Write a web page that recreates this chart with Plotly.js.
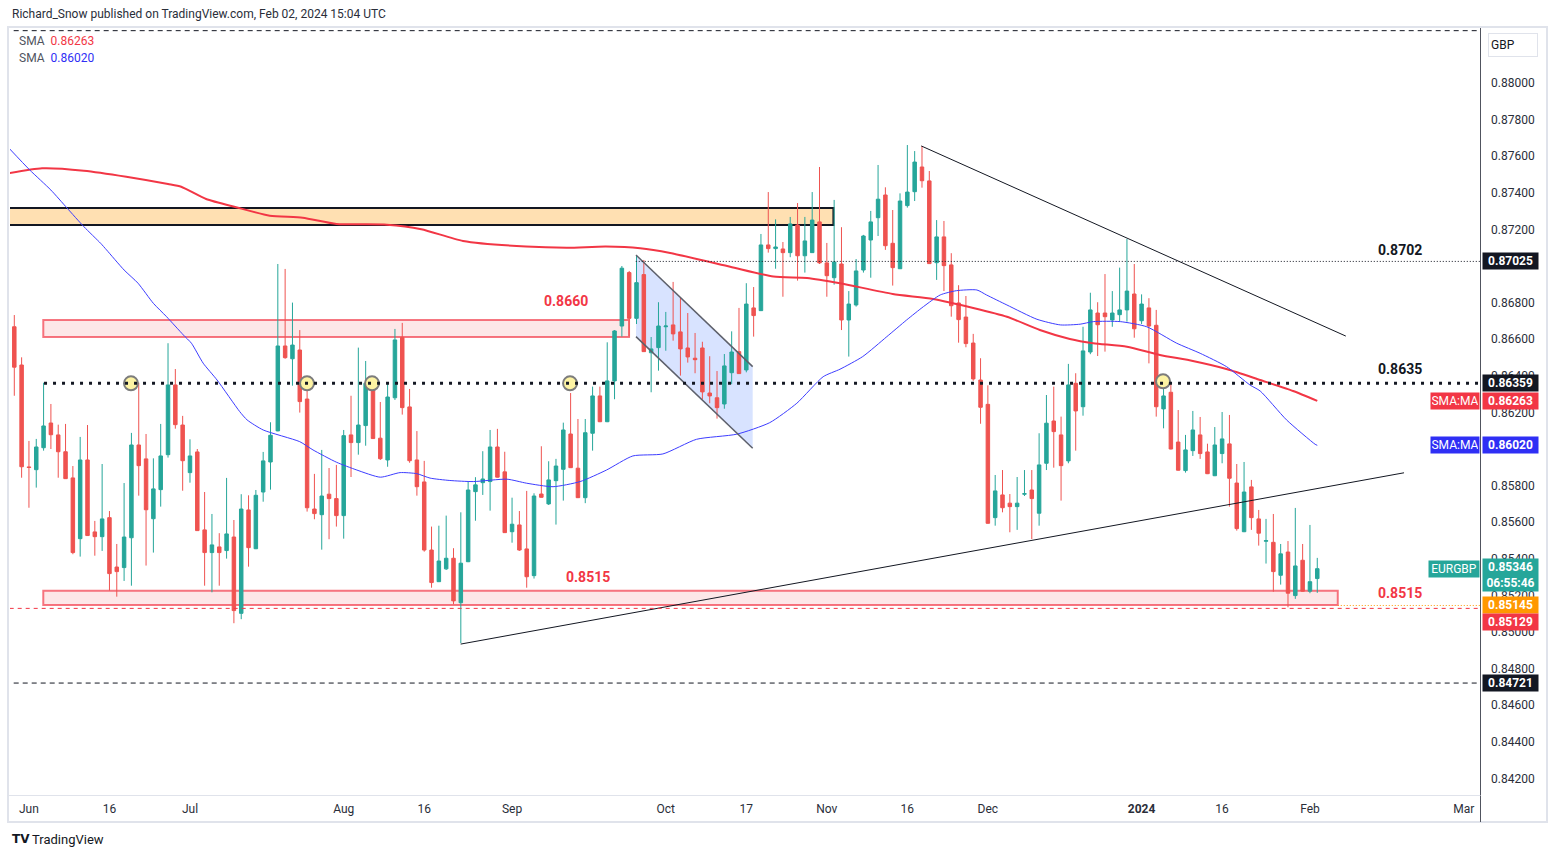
<!DOCTYPE html>
<html><head><meta charset="utf-8">
<script src="https://cdn.plot.ly/plotly-3.0.1.min.js"></script>
<style>html,body{margin:0;padding:0;background:#fff;overflow:hidden}#chart{width:1556px;height:857px}</style>
</head><body><div id="chart"></div>
<script>
// ---------------- DATA (EURGBP daily) ----------------
const firstSession = '2023-05-30';
const open = [
0.86668,0.86459,0.85902,0.85887,0.86007,0.86142,0.86077,0.85985,0.85842,0.85510,
0.85940,0.85547,0.85521,0.85625,0.85355,0.85352,0.85515,0.86022,0.85946,0.85619,
0.85778,0.85969,0.86350,0.86131,0.85871,0.85984,0.85558,0.85434,0.85465,0.85445,
0.85519,0.85102,0.85667,0.85455,0.85765,0.85929,0.86099,0.86563,0.86493,0.86541,
0.86273,0.85672,0.85641,0.85753,0.85729,0.85636,0.86077,0.86035,0.86128,0.86344,
0.86059,0.85940,0.86280,0.86610,0.86230,0.85940,0.85820,0.85448,0.85275,0.85345,
0.85403,0.85160,0.85384,0.85767,0.85816,0.85822,0.86011,0.85875,0.85548,0.85585,
0.85454,0.85308,0.85754,0.85700,0.85827,0.85889,0.86082,0.85895,0.85734,0.86086,
0.86290,0.86149,0.86372,0.86672,0.86964,0.86714,0.86953,0.86526,0.86554,0.86668,
0.86678,0.86640,0.86552,0.86496,0.86552,0.86306,0.86280,0.86246,0.86417,0.86532,
0.86432,0.86771,0.86756,0.87115,0.87095,0.87093,0.87073,0.87224,0.87056,0.87073,
0.87241,0.87017,0.86936,0.87011,0.86705,0.86787,0.86978,0.87142,0.87264,0.87388,
0.87124,0.86985,0.87330,0.87406,0.87541,0.87465,0.87018,0.87159,0.87006,0.86798,
0.86721,0.86579,0.86377,0.86244,0.85625,0.85749,0.85704,0.85685,0.85753,0.85776,
0.85649,0.85922,0.86153,0.86077,0.85935,0.86359,0.86231,0.86530,0.86743,0.86743,
0.86705,0.86734,0.86760,0.86847,0.86701,0.86771,0.86676,0.86219,0.86310,0.86038,
0.85882,0.85991,0.86077,0.85984,0.85854,0.85975,0.86028,0.85814,0.85548,0.85793,
0.85618,0.85496,0.85490,0.85310,0.85437,0.85199,0.85392,0.85223,0.85292];
const high = [
0.86732,0.86501,0.86044,0.86055,0.86362,0.86246,0.86133,0.86137,0.85907,0.86066,
0.86131,0.85607,0.85918,0.85661,0.85481,0.85814,0.86088,0.86362,0.86082,0.85949,
0.86137,0.86578,0.86437,0.86181,0.86053,0.86000,0.85765,0.85645,0.85540,0.85842,
0.85612,0.85753,0.85747,0.85776,0.85984,0.86146,0.87011,0.86984,0.86800,0.86650,
0.86368,0.85864,0.85995,0.85896,0.85913,0.86104,0.86291,0.86554,0.86481,0.86390,
0.86257,0.86355,0.86656,0.86689,0.86328,0.86098,0.85935,0.85576,0.85581,0.85636,
0.85458,0.85654,0.85822,0.85846,0.85988,0.86104,0.86110,0.85985,0.85734,0.85661,
0.85771,0.85758,0.86015,0.85933,0.85946,0.86144,0.86306,0.86164,0.86164,0.86341,
0.86341,0.86583,0.86650,0.87000,0.86973,0.87060,0.87033,0.86612,0.86802,0.86749,
0.86913,0.86827,0.86743,0.86634,0.86586,0.86507,0.86426,0.86519,0.86643,0.86771,
0.86906,0.86885,0.87175,0.87404,0.87255,0.87131,0.87268,0.87344,0.87268,0.87404,
0.87541,0.87126,0.87361,0.87212,0.86863,0.87038,0.87170,0.87301,0.87552,0.87430,
0.87306,0.87397,0.87661,0.87628,0.87656,0.87519,0.87251,0.87246,0.87070,0.86895,
0.86836,0.86629,0.86496,0.86348,0.85858,0.85885,0.85754,0.85847,0.85885,0.85885,
0.86086,0.86295,0.86341,0.86177,0.86465,0.86414,0.86668,0.86854,0.86802,0.86956,
0.86863,0.86991,0.87148,0.87011,0.86845,0.86824,0.86760,0.86395,0.86355,0.86213,
0.86077,0.86208,0.86175,0.86029,0.86120,0.86202,0.86186,0.85918,0.85929,0.85831,
0.85667,0.85618,0.85645,0.85481,0.85497,0.85678,0.85481,0.85585,0.85405];
const low = [
0.86291,0.85843,0.85679,0.85789,0.85991,0.86000,0.85843,0.85836,0.85425,0.85412,
0.85525,0.85417,0.85443,0.85226,0.85193,0.85279,0.85253,0.85745,0.85363,0.85434,
0.85685,0.85953,0.86111,0.85772,0.85816,0.85552,0.85253,0.85217,0.85253,0.85401,
0.85048,0.85070,0.85357,0.85453,0.85712,0.85778,0.86097,0.86493,0.86346,0.86199,
0.85658,0.85616,0.85450,0.85507,0.85576,0.85510,0.85847,0.85969,0.86018,0.86055,
0.85940,0.85903,0.86268,0.86188,0.85925,0.85745,0.85439,0.85242,0.85273,0.85339,
0.85152,0.84939,0.85382,0.85608,0.85749,0.85663,0.85844,0.85541,0.85488,0.85443,
0.85242,0.85292,0.85734,0.85694,0.85587,0.85718,0.85896,0.85732,0.85704,0.85991,
0.86147,0.86147,0.86272,0.86614,0.86614,0.86683,0.86530,0.86310,0.86428,0.86537,
0.86592,0.86401,0.86472,0.86414,0.86272,0.86250,0.86166,0.86220,0.86354,0.86410,
0.86419,0.86614,0.86754,0.87073,0.86985,0.86832,0.87048,0.86920,0.86964,0.87071,
0.87011,0.86832,0.86898,0.86650,0.86505,0.86778,0.86964,0.86936,0.87164,0.87088,
0.86893,0.86984,0.87319,0.87355,0.87428,0.87011,0.86924,0.86863,0.86723,0.86581,
0.86556,0.86373,0.86138,0.85592,0.85581,0.85654,0.85545,0.85558,0.85743,0.85508,
0.85581,0.85885,0.85898,0.85718,0.85922,0.85991,0.86182,0.86518,0.86508,0.86532,
0.86668,0.86696,0.86696,0.86608,0.86683,0.86468,0.86177,0.86113,0.85998,0.85882,
0.85871,0.85962,0.85946,0.85863,0.85852,0.85922,0.85685,0.85554,0.85546,0.85558,
0.85472,0.85374,0.85220,0.85259,0.85135,0.85181,0.85221,0.85212,0.85214];
const close = [
0.86447,0.85903,0.85899,0.86011,0.86126,0.86078,0.85985,0.85838,0.85434,0.85940,
0.85527,0.85521,0.85618,0.85319,0.85330,0.85519,0.86022,0.85909,0.85668,0.85782,
0.85962,0.86350,0.86133,0.85936,0.85962,0.85554,0.85434,0.85476,0.85434,0.85536,
0.85117,0.85672,0.85461,0.85747,0.85935,0.86075,0.86563,0.86499,0.86568,0.86259,
0.85679,0.85647,0.85743,0.85729,0.85636,0.86073,0.86035,0.86131,0.86359,0.86057,
0.85947,0.86284,0.86596,0.86226,0.85936,0.85794,0.85448,0.85270,0.85388,0.85403,
0.85170,0.85376,0.85776,0.85804,0.85836,0.86011,0.85846,0.85543,0.85589,0.85448,
0.85302,0.85743,0.85736,0.85831,0.85907,0.86104,0.85898,0.85734,0.86089,0.86290,
0.86149,0.86372,0.86645,0.86988,0.86714,0.86909,0.86532,0.86547,0.86672,0.86672,
0.86629,0.86547,0.86503,0.86488,0.86312,0.86290,0.86226,0.86454,0.86530,0.86412,
0.86792,0.86729,0.87115,0.87095,0.87104,0.87073,0.87230,0.87056,0.87137,0.87251,
0.87017,0.86947,0.87022,0.86705,0.86792,0.86973,0.87164,0.87241,0.87365,0.87111,
0.86991,0.87355,0.87404,0.87568,0.87466,0.87013,0.87159,0.87002,0.86783,0.86707,
0.86576,0.86383,0.86228,0.85594,0.85771,0.85679,0.85685,0.85704,0.85756,0.85729,
0.85913,0.86141,0.86095,0.85909,0.86350,0.86208,0.86536,0.86760,0.86679,0.86723,
0.86743,0.86760,0.86863,0.86657,0.86792,0.86672,0.86231,0.86290,0.86000,0.85884,
0.85995,0.86104,0.85975,0.85865,0.86022,0.86055,0.85840,0.85565,0.85765,0.85625,
0.85540,0.85499,0.85330,0.85427,0.85212,0.85361,0.85223,0.85275,0.85346];

// moving averages (session index, value)
const smaRedIdx = [-0.7,3.8,9.5,15.3,21.0,22.8,26.2,30.3,34.9,39.4,44.0,50.9,55.6,61.3,69.9,75.6,80.8,85.5,89.6,97.8,103.7,108.3,112.8,120.0,125.5,131.0,135.6,140.1,144.2,147.4,152.0,156.5,161.0,165.7,170.2,174.7,178];
const smaRedVal = [0.87507,0.87534,0.87521,0.87488,0.87448,0.87433,0.87366,0.87321,0.87275,0.87264,0.87230,0.87226,0.87201,0.87137,0.87106,0.87100,0.87106,0.87097,0.87071,0.86996,0.86942,0.86935,0.86906,0.86847,0.86820,0.86771,0.86723,0.86650,0.86601,0.86578,0.86559,0.86514,0.86481,0.86436,0.86377,0.86317,0.86263];
const smaBlueIdx = [-0.7,2.1,5.0,7.2,9.5,11.8,12.6,15.0,16.9,19.0,20.8,23.1,24.2,25.8,27.7,30.8,31.8,34.0,39.0,40.8,44.0,46.8,50.0,52.7,55.0,56.8,59.5,62.7,67.3,70.0,73.6,77.3,80.9,84.5,88.6,93.2,98.7,103.2,106.9,110.5,112.8,115.9,119.2,121.9,124.2,126.5,128.7,131.5,132.8,135.6,139.7,142.9,145.6,147.4,151.1,154.7,158.8,162.0,165.6,168.8,170.2,173.8,177.7,178];
const smaBlueVal = [0.87643,0.87525,0.87415,0.87317,0.87215,0.87124,0.87088,0.86978,0.86906,0.86796,0.86723,0.86623,0.86578,0.86469,0.86377,0.86204,0.86159,0.86104,0.86040,0.85995,0.85928,0.85885,0.85846,0.85871,0.85865,0.85841,0.85828,0.85822,0.85835,0.85813,0.85794,0.85822,0.85885,0.85962,0.85973,0.86053,0.86081,0.86144,0.86250,0.86395,0.86436,0.86505,0.86614,0.86705,0.86778,0.86842,0.86865,0.86869,0.86842,0.86787,0.86709,0.86678,0.86682,0.86696,0.86696,0.86668,0.86578,0.86523,0.86450,0.86350,0.86317,0.86159,0.86026,0.86020];

// touch points of the 0.8635 level (session index)
const touchIdx = [15.94,39.99,48.87,75.92,156.93];
const touchVal = [0.86359,0.86359,0.86359,0.86359,0.86370];

// time axis
const tickIdx = [2,13,24,45,56,68,89,100,111,122,133,154,165,177,198];
const tickText = ['Jun','16','Jul','Aug','16','Sep','Oct','17','Nov','16','Dec','<b>2024</b>','16','Feb','Mar'];
// price axis (0.86000 and 0.87000 are hidden behind price tags in the original)
const priceTicks = [0.842,0.844,0.846,0.848,0.850,0.852,0.854,0.856,0.858,0.862,0.864,0.866,0.868,0.872,0.874,0.876,0.878,0.880];

// drawings (levels, zones, trendlines)
const lvlMain = 0.86359, lvlHigh = 0.87025, lvlLow = 0.85129, lvlPrev = 0.85145, lvlBottom = 0.84721, lvlTop = 0.88286;
const zoneOrange = [0.87224,0.87317], zoneUpper = [0.86612,0.86705], zoneLower = [0.85148,0.85226];
const chanTop = [[84.93,0.87060],[100.87,0.86450]], chanBot = [[84.93,0.86614],[100.87,0.86004]];
const trendDown = [[123.9,0.87656],[181.9,0.86617]];
const trendUp = [[60.98,0.84934],[189.85,0.85870]];

// ---------------- BUILD ----------------
const idx = open.map((_, i) => i);
const sessions = (() => {
  const out = []; const d = new Date(firstSession + 'T00:00:00Z');
  while (out.length < open.length) {
    const wd = d.getUTCDay();
    if (wd !== 0 && wd !== 6) out.push(d.toISOString().slice(0, 10));
    d.setUTCDate(d.getUTCDate() + 1);
  }
  return out;
})();

const UP = '#26a69a', DN = '#ef5350', RED = '#f23645', BLUE = '#2f2ff5', INK = '#131722';
const FONT = 'Roboto, "Liberation Sans", Arial, sans-serif';
const PL = 10, PR = 1480, PT = 30, PB = 795;
const px = v => (v - PL) / (PR - PL);
const py = v => (PB - v) / (PB - PT);
const XMIN = -0.587, XMAX = 200.23;

const traces = [
  {type: 'candlestick', x: idx, open, high, low, close, text: sessions, hoverinfo: 'skip',
   increasing: {line: {color: UP, width: 1}, fillcolor: UP},
   decreasing: {line: {color: DN, width: 1}, fillcolor: DN}, whiskerwidth: 0},
  {type: 'scatter', mode: 'lines', x: smaRedIdx, y: smaRedVal, line: {color: RED, width: 2, shape: 'spline', smoothing: 0.6}, hoverinfo: 'skip'},
  {type: 'scatter', mode: 'lines', x: smaBlueIdx, y: smaBlueVal, line: {color: '#3d3dff', width: 1, shape: 'spline', smoothing: 0.6}, hoverinfo: 'skip'},
  {type: 'scatter', mode: 'markers', x: touchIdx, y: touchVal, marker: {size: 14, color: '#fdf3a3', line: {color: '#7c7c7c', width: 2}}, hoverinfo: 'skip'}
];

const hline = (y, x0, x1, color, width, dash) => ({type: 'line', xref: 'x', yref: 'y', x0, x1, y0: y, y1: y, line: {color, width, dash}, layer: 'above'});
const seg = (p, color, width) => ({type: 'line', xref: 'x', yref: 'y', x0: p[0][0], y0: p[0][1], x1: p[1][0], y1: p[1][1], line: {color, width}, layer: 'above'});
const zone = (x0, x1, yy, fill, lc) => ({type: 'rect', xref: 'x', yref: 'y', x0, x1, y0: yy[0], y1: yy[1], fillcolor: fill, line: {color: lc, width: 2}, layer: 'below'});

const shapes = [
  zone(-5, 111.9, zoneOrange, '#ffe0b2', INK),
  zone(3.96, 83.98, zoneUpper, 'rgba(242,54,69,0.12)', 'rgba(242,54,69,0.68)'),
  zone(3.96, 180.8, zoneLower, 'rgba(242,54,69,0.12)', 'rgba(242,54,69,0.68)'),
  {type: 'path', xref: 'x', yref: 'y', layer: 'below', fillcolor: 'rgba(41,98,255,0.18)', line: {width: 0},
   path: `M${chanTop[0][0]},${chanTop[0][1]} L${chanTop[1][0]},${chanTop[1][1]} L${chanBot[1][0]},${chanBot[1][1]} L${chanBot[0][0]},${chanBot[0][1]} Z`},
  seg(chanTop, '#5d606b', 1.5), seg(chanBot, '#5d606b', 1.5),
  seg(trendDown, INK, 1), seg(trendUp, INK, 1),
  hline(lvlTop, -5, 205, INK, 1, '5px,4px'),
  hline(lvlBottom, -5, 205, INK, 1, '5px,4px'),
  hline(lvlLow, -5, 205, RED, 1, '4px,4px'),
  hline(lvlPrev, 180.8, 205, '#ff9800', 1, '1px,2px'),
  hline(lvlHigh, 84.9, 205, INK, 1, '1px,2px'),
  hline(lvlMain, 4.06, 205, INK, 3, '3px,6px'),
  // frame
  {type: 'rect', xref: 'paper', yref: 'paper', x0: px(8), x1: px(1547), y0: py(822), y1: py(27), line: {color: '#e0e3eb', width: 2}, layer: 'below'},
  {type: 'line', xref: 'paper', yref: 'paper', x0: px(1480.5), x1: px(1480.5), y0: py(822), y1: py(28), line: {color: '#50535e', width: 1}},
  {type: 'line', xref: 'paper', yref: 'paper', x0: px(8), x1: px(1480.5), y0: py(795.5), y1: py(795.5), line: {color: '#e0e3eb', width: 1}}
];

const tag = (val, label, bg, extra) => Object.assign({xref: 'paper', yref: 'y', x: px(1482), y: val, xanchor: 'left', yanchor: 'middle',
  text: '<b>' + label + '</b>', showarrow: false, bgcolor: bg, borderpad: 1, width: 53, font: {family: FONT, size: 12, color: '#ffffff'}}, extra || {});
const leftTag = (val, label, bg, w) => ({xref: 'paper', yref: 'y', x: px(1480), y: val, xanchor: 'right', yanchor: 'middle',
  text: label, showarrow: false, bgcolor: bg, borderpad: 1, width: w, font: {family: FONT, size: 12, color: '#ffffff'}});
const lvlText = (xi, yv, t, color) => ({xref: 'x', yref: 'y', x: xi, y: yv, text: '<b>' + t + '</b>', showarrow: false,
  font: {family: FONT, size: 14, color}, xanchor: 'center', yanchor: 'middle'});

const annotations = [
  {xref: 'paper', yref: 'paper', x: px(10), y: py(14), xanchor: 'left', yanchor: 'middle', showarrow: false,
   text: 'Richard_Snow published on TradingView.com, Feb 02, 2024 15:04 UTC', font: {family: FONT, size: 12, color: '#2a2e39'}},
  {xref: 'paper', yref: 'paper', x: px(17), y: py(41), xanchor: 'left', yanchor: 'middle', showarrow: false,
   text: 'SMA  <span style="color:#f23645">0.86263</span>', font: {family: FONT, size: 12, color: '#50535e'}},
  {xref: 'paper', yref: 'paper', x: px(17), y: py(58), xanchor: 'left', yanchor: 'middle', showarrow: false,
   text: 'SMA  <span style="color:#2f2ff5">0.86020</span>', font: {family: FONT, size: 12, color: '#50535e'}},
  {xref: 'paper', yref: 'paper', x: px(30), y: py(839), xanchor: 'left', yanchor: 'middle', showarrow: false,
   text: 'TradingView', font: {family: FONT, size: 13, color: '#131722'}},
  {xref: 'paper', yref: 'paper', x: px(10), y: py(839), xanchor: 'left', yanchor: 'middle', showarrow: false,
   text: '<b>TV</b>', font: {family: '"DejaVu Sans", sans-serif', size: 12, color: '#131722'}},
  {xref: 'paper', yref: 'paper', x: px(1488), y: py(45), xanchor: 'left', yanchor: 'middle', showarrow: false,
   text: 'GBP', align: 'left', width: 44, height: 18, bgcolor: '#ffffff', bordercolor: '#e0e3eb', borderwidth: 1, borderpad: 2,
   font: {family: FONT, size: 12, color: '#131722'}},
  // level captions
  lvlText(75.4, 0.86809, '0.8660', RED),
  lvlText(78.4, 0.85300, '0.8515', RED),
  lvlText(189.3, 0.87085, '0.8702', INK),
  lvlText(189.3, 0.86437, '0.8635', INK),
  lvlText(189.3, 0.85215, '0.8515', RED),
  // price-scale tags
  tag(lvlHigh, '0.87025', INK),
  tag(lvlMain, '0.86359', INK),
  tag(smaRedVal[smaRedVal.length - 1], '0.86263', RED),
  tag(smaBlueVal[smaBlueVal.length - 1], '0.86020', BLUE),
  tag(close[close.length - 1], '0.85346<br>06:55:46', UP, {yshift: -6}),
  tag(lvlPrev, '0.85145', '#ff9800'),
  tag(lvlLow, '0.85129', RED, {yshift: -14}),
  tag(lvlBottom, '0.84721', INK),
  leftTag(smaRedVal[smaRedVal.length - 1], 'SMA:MA', RED, 46),
  leftTag(smaBlueVal[smaBlueVal.length - 1], 'SMA:MA', BLUE, 46),
  leftTag(close[close.length - 1], 'EURGBP', UP, 48)
];

const layout = {
  width: 1556, height: 857, margin: {l: PL, r: 1556 - PR, t: PT, b: 857 - PB},
  paper_bgcolor: '#ffffff', plot_bgcolor: '#ffffff', showlegend: false, hovermode: false, boxgap: 0.32,
  font: {family: FONT, size: 12, color: INK},
  xaxis: {range: [XMIN, XMAX], tickvals: tickIdx, ticktext: tickText, showgrid: false, zeroline: false, showline: false,
          ticks: '', ticklabelstandoff: 5, tickfont: {family: FONT, size: 12, color: '#2a2e39'}, rangeslider: {visible: false}, fixedrange: true},
  yaxis: {side: 'right', range: [0.841093, 0.882896], tickvals: priceTicks, ticktext: priceTicks.map(v => v.toFixed(5)),
          showgrid: false, zeroline: false, showline: false, ticks: '', ticklabelstandoff: 10,
          tickfont: {family: FONT, size: 12, color: '#2a2e39'}, fixedrange: true},
  shapes, annotations
};

Plotly.newPlot('chart', traces, layout, {displayModeBar: false, staticPlot: true});
</script></body></html>
